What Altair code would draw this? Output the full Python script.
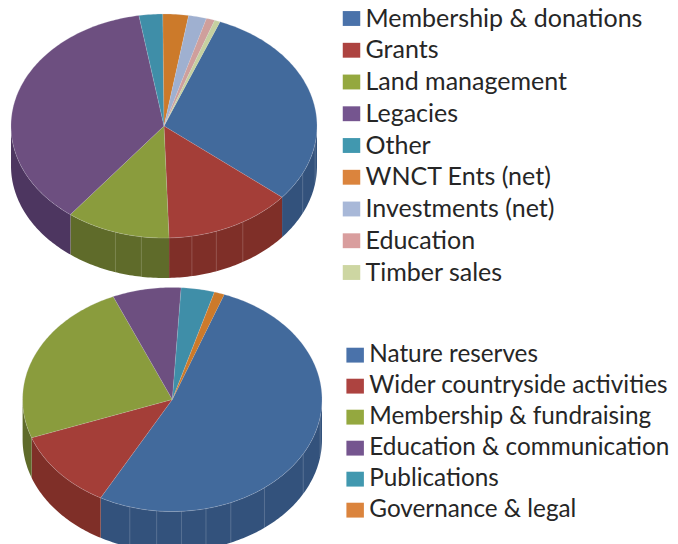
import numpy as np
import pandas as pd
import altair as alt

# ---------- values ----------
income_labels = ["Membership & donations", "Grants", "Land management", "Legacies", "Other",
                 "WNCT Ents (net)", "Investments (net)", "Education", "Timber sales"]
income_values = [30.0, 13.5, 11.0, 36.9, 2.5, 2.7, 1.9, 0.9, 0.6]
income_wall_marks = [99, 115, 149, 160, 169.5, 188.5, 198.5]

spend_labels = ["Nature reserves", "Wider countryside activities", "Membership & fundraising",
                "Education & communication", "Publications", "Governance & legal"]
spend_values = [52.3, 11.5, 24.1, 7.4, 3.6, 1.1]
spend_wall_marks = [99, 119, 142, 157, 167, 176.5, 186, 196.5]

top_colors = ["#426a9c", "#a43e38", "#8a9c3d", "#6d4f80", "#3f8ea8", "#cc7a2a", "#9fb0d0", "#cf9f9c", "#c5d0a0"]
wall_colors = ["#33527c", "#7f2f28", "#5f6b2a", "#4d3660", "#2f6a80", "#99591c", "#7a88a4", "#a07a78", "#98a27a"]
legend_colors = ["#4a72aa", "#ad4340", "#94a83f", "#75558f", "#4198af", "#db843d", "#a8b8d8", "#d99e9e", "#cdd6a2"]


def rad(d):
    return np.deg2rad(d)


def pie_frames(name, values, start, cx, cy, rx, ry, depth):
    tops, walls = [], []
    a = start
    for i, v in enumerate(values):
        b = a + v * 3.6
        n = max(int(b - a) + 2, 3)
        th = rad(np.linspace(a, b, n))
        xs = np.r_[cx, cx + rx * np.sin(th)]
        ys = np.r_[cy, cy - ry * np.cos(th)]
        tops.append(pd.DataFrame({"x": xs, "y": ys, "o": np.arange(len(xs)),
                                  "id": f"{name}{i}", "c": top_colors[i]}))
        lo, hi = max(a, 90), min(b, 270)
        if hi > lo:
            m = max(int(hi - lo) + 2, 3)
            t = rad(np.linspace(lo, hi, m))
            xw = cx + rx * np.sin(t)
            yw = cy - ry * np.cos(t)
            walls.append(pd.DataFrame({"x": np.r_[xw, xw[::-1]], "y": np.r_[yw, yw[::-1] + depth],
                                       "o": np.arange(2 * m), "id": f"{name}w{i}", "c": wall_colors[i]}))
        a = b
    return pd.concat(tops), pd.concat(walls)


def wall_rules(marks, cx, cy, rx, ry, depth):
    t = rad(np.array(marks, dtype=float))
    y = cy - ry * np.cos(t)
    return pd.DataFrame({"x": cx + rx * np.sin(t), "y": y, "y2": y + depth})


t1, w1 = pie_frames("a", income_values, 21.5, 164, 126, 153, 112, 40)
t2, w2 = pie_frames("b", spend_values, 20.3, 172.3, 399.5, 149.7, 112, 40)
tops = pd.concat([t1, t2])
walls = pd.concat([w1, w2])
rules = pd.concat([wall_rules(income_wall_marks, 164, 126, 153, 112, 40),
                   wall_rules(spend_wall_marks, 172.3, 399.5, 149.7, 112, 40)])

X = alt.X("x:Q", scale=alt.Scale(domain=[8, 670], nice=False, zero=False), axis=None)
Y = alt.Y("y:Q", scale=alt.Scale(domain=[544, 8], nice=False, zero=False), axis=None)


def surface(df, **kw):
    return alt.Chart(df).mark_line(filled=True, interpolate="linear", **kw).encode(
        X, Y, order="o:Q", detail="id:N", fill=alt.Fill("c:N", scale=None, legend=None))


wall_layer = surface(walls, stroke="#ffffff", strokeOpacity=0.06, strokeWidth=0.5)
top_layer = surface(tops, stroke="#d8d8e4", strokeOpacity=0.3, strokeWidth=0.7)
rule_layer = alt.Chart(rules).mark_rule(color="#ffffff", opacity=0.18, strokeWidth=1).encode(X, Y, y2="y2:Q")


def legend_layer(labels, colors, lx, ly, pad, font, offset):
    df = pd.DataFrame({"label": labels, "x": [100] * len(labels), "y": [100] * len(labels)})
    return alt.Chart(df).mark_point(filled=True, opacity=0, size=1).encode(
        X, Y,
        color=alt.Color("label:N", sort=None,
                        scale=alt.Scale(domain=labels, range=colors),
                        legend=alt.Legend(orient="none", legendX=lx, legendY=ly, title=None,
                                          symbolType="M-1,-0.85H1V0.85H-1Z", symbolSize=306,
                                          symbolOpacity=1, symbolStrokeWidth=0,
                                          labelFont="Lato", labelFontSize=font, labelColor="#262626",
                                          labelLimit=400, labelOffset=offset, rowPadding=pad,
                                          padding=0, columnPadding=0)))


chart = alt.layer(
    wall_layer, rule_layer, top_layer,
    legend_layer(income_labels, legend_colors, 331, -2, 5.75, 25, 1.5),
    legend_layer(spend_labels, legend_colors[:6], 335, 335, 6, 24.3, 2),
).resolve_scale(color="independent").properties(
    width=662, height=536, padding=0, background="#ffffff",
    autosize=alt.AutoSizeParams(type="none"),
).configure_view(strokeWidth=0)

chart.save("out.html", embed_options={"renderer": "svg", "actions": False})
